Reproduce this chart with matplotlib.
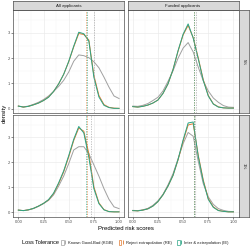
import matplotlib
matplotlib.use("Agg")
import matplotlib.pyplot as plt
from matplotlib.patches import Patch
from matplotlib.lines import Line2D
from matplotlib.legend_handler import HandlerTuple

plt.rcParams['font.family'] = ['Liberation Sans', 'DejaVu Sans']

# ---- data ----
scores = [0.00, 0.05, 0.10, 0.15, 0.20, 0.25, 0.30, 0.35, 0.40, 0.45, 0.50,
          0.55, 0.60, 0.65, 0.70, 0.75, 0.80, 0.85, 0.90, 0.95, 1.00]

col_labels = ["All applicants", "Funded applicants"]
row_labels = ["5%", "1%"]
series_labels = ["Known Good-Bad (KGB)", "Reject extrapolation (RE)", "Inter & extrapolation (IE)"]

kgb_all_5 = [0.10, 0.07, 0.10, 0.17, 0.25, 0.36, 0.50, 0.68, 0.88, 1.12, 1.45, 1.88, 2.13, 2.10, 2.02, 1.86, 1.62, 1.25, 0.85, 0.50, 0.40]
re_all_5 = [0.10, 0.06, 0.09, 0.15, 0.22, 0.32, 0.46, 0.68, 0.98, 1.36, 1.86, 2.45, 2.98, 2.94, 2.72, 1.32, 0.52, 0.16, 0.05, 0.02, 0.01]
ie_all_5 = [0.10, 0.06, 0.09, 0.15, 0.22, 0.32, 0.45, 0.68, 0.98, 1.36, 1.87, 2.48, 3.03, 2.97, 2.68, 1.24, 0.46, 0.13, 0.04, 0.01, 0.01]

kgb_fund_5 = [0.10, 0.09, 0.13, 0.20, 0.32, 0.45, 0.70, 1.08, 1.50, 2.00, 2.40, 2.62, 2.25, 1.65, 1.10, 0.70, 0.42, 0.25, 0.12, 0.06, 0.05]
re_fund_5 = [0.08, 0.06, 0.09, 0.14, 0.22, 0.34, 0.60, 0.98, 1.55, 2.28, 2.92, 3.30, 2.82, 2.02, 1.15, 0.52, 0.19, 0.07, 0.03, 0.02, 0.02]
ie_fund_5 = [0.08, 0.06, 0.09, 0.14, 0.22, 0.34, 0.60, 0.98, 1.55, 2.30, 2.95, 3.36, 2.80, 1.98, 1.12, 0.50, 0.18, 0.06, 0.03, 0.02, 0.02]

kgb_all_1 = [0.09, 0.07, 0.10, 0.15, 0.24, 0.35, 0.48, 0.70, 1.05, 1.45, 1.95, 2.50, 2.63, 2.63, 2.35, 1.90, 1.45, 0.95, 0.52, 0.22, 0.15]
re_all_1 = [0.09, 0.07, 0.10, 0.16, 0.25, 0.36, 0.50, 0.75, 1.15, 1.62, 2.22, 2.88, 3.38, 3.25, 2.35, 1.02, 0.38, 0.11, 0.03, 0.02, 0.02]
ie_all_1 = [0.09, 0.07, 0.10, 0.16, 0.25, 0.36, 0.51, 0.77, 1.18, 1.66, 2.27, 2.93, 3.44, 3.18, 2.20, 0.95, 0.35, 0.10, 0.03, 0.02, 0.02]

kgb_fund_1 = [0.08, 0.07, 0.10, 0.16, 0.28, 0.46, 0.72, 1.10, 1.55, 2.15, 2.75, 3.20, 3.05, 2.05, 1.15, 0.62, 0.32, 0.15, 0.08, 0.04, 0.03]
re_fund_1 = [0.07, 0.06, 0.09, 0.14, 0.25, 0.43, 0.70, 1.05, 1.48, 2.10, 2.85, 3.50, 3.55, 2.30, 1.30, 0.55, 0.22, 0.08, 0.04, 0.02, 0.02]
ie_fund_1 = [0.07, 0.06, 0.09, 0.14, 0.25, 0.43, 0.70, 1.05, 1.48, 2.12, 2.90, 3.58, 3.62, 2.25, 1.25, 0.52, 0.20, 0.07, 0.04, 0.02, 0.02]

# cut-off thresholds (dashed vertical lines): KGB, RE, IE
cut_all_5 = [0.75, 0.675, 0.68]
cut_fund_5 = [0.63, 0.61, 0.612]
cut_all_1 = [0.725, 0.685, 0.67]
cut_fund_1 = [0.62, 0.61, 0.612]

panels = {
    (0, 0): ([kgb_all_5, re_all_5, ie_all_5], cut_all_5),
    (0, 1): ([kgb_fund_5, re_fund_5, ie_fund_5], cut_fund_5),
    (1, 0): ([kgb_all_1, re_all_1, ie_all_1], cut_all_1),
    (1, 1): ([kgb_fund_1, re_fund_1, ie_fund_1], cut_fund_1),
}

colors = ["#a0a0a0", "#E07A30", "#2BA585"]
x_ticks = [0.00, 0.25, 0.50, 0.75, 1.00]
x_ticklabels = ["0.00", "0.25", "0.50", "0.75", "1.00"]
y_ticks = [0, 1, 2, 3]

# ---- layout ----
W = 250.0
fig = plt.figure(figsize=(2.5, 2.5), dpi=100)

col_x = [(13.3, 124.1), (127.7, 238.5)]
row_y = [(10.3, 113.3), (115.0, 217.0)]
strip_top = (1.0, 10.3)
strip_right = (239.3, 248.5)

def fx(px):
    return px / W

def fy(py):
    return 1 - py / W

grid_c = "#ebebeb"
border_c = "#4d4d4d"
strip_fill = "#d9d9d9"
tick_c = "#4d4d4d"
fs_tick = 3.0
fs_strip = 3.2

for (r, c), (series, cuts) in panels.items():
    x0, x1 = col_x[c]
    y0, y1 = row_y[r]
    ax = fig.add_axes([fx(x0), fy(y1), fx(x1) - fx(x0), fy(y0) - fy(y1)])
    ax.set_xlim(-0.05, 1.05)
    ax.set_ylim(-0.186, 3.9)
    for xv in [0.125, 0.375, 0.625, 0.875]:
        ax.axvline(xv, color="#f5f5f5", lw=0.3, zorder=0)
    for yv in [0.5, 1.5, 2.5, 3.5]:
        ax.axhline(yv, color="#f5f5f5", lw=0.3, zorder=0)
    for xv in x_ticks:
        ax.axvline(xv, color=grid_c, lw=0.5, zorder=0)
    for yv in y_ticks:
        ax.axhline(yv, color=grid_c, lw=0.5, zorder=0)
    for vals, col in zip(series, colors):
        ax.plot(scores, vals, color=col, lw=0.7, zorder=3)
    for cv, col in zip(cuts, colors):
        ax.axvline(cv, color=col, lw=0.45, ls=(0, (2.0, 2.0)), zorder=4)
    ax.set_xticks(x_ticks)
    ax.set_yticks(y_ticks)
    ax.tick_params(length=1.2, width=0.4, color="#333333", pad=1,
                   labelsize=fs_tick, labelcolor=tick_c)
    if r == 0:
        ax.set_xticklabels([])
        ax.tick_params(axis='x', length=0)
    else:
        ax.set_xticklabels(x_ticklabels)
    if c == 1:
        ax.set_yticklabels([])
        ax.tick_params(axis='y', length=0)
    else:
        ax.set_yticklabels([str(v) for v in y_ticks])
    for s in ax.spines.values():
        s.set_color(border_c)
        s.set_linewidth(0.5)

    if r == 0:
        sax = fig.add_axes([fx(x0), fy(strip_top[1]), fx(x1) - fx(x0), fy(strip_top[0]) - fy(strip_top[1])])
        sax.set_facecolor(strip_fill)
        sax.set_xticks([]); sax.set_yticks([])
        for s in sax.spines.values():
            s.set_color(border_c); s.set_linewidth(0.5)
        sax.text(0.5, 0.5, col_labels[c], ha="center", va="center",
                 fontsize=fs_strip, color="#1a1a1a", transform=sax.transAxes)
    if c == 1:
        sax = fig.add_axes([fx(strip_right[0]), fy(y1), fx(strip_right[1]) - fx(strip_right[0]), fy(y0) - fy(y1)])
        sax.set_facecolor(strip_fill)
        sax.set_xticks([]); sax.set_yticks([])
        for s in sax.spines.values():
            s.set_color(border_c); s.set_linewidth(0.5)
        sax.text(0.5, 0.5, row_labels[r], ha="center", va="center", rotation=-90,
                 fontsize=fs_strip, color="#1a1a1a", transform=sax.transAxes)

fig.text(fx(126), fy(228), "Predicted risk scores", ha="center", va="center", fontsize=4.3)
fig.text(fx(4), fy(113.5), "density", ha="center", va="center", rotation=90, fontsize=4.3)

fig.text(fx(22), fy(242.5), "Loss Tolerance", ha="left", va="center", fontsize=4.0)
handles = []
for col in colors:
    handles.append((Patch(facecolor="white", edgecolor=col, linewidth=0.5),
                    Line2D([], [], color=col, marker="|", linestyle="None",
                           markersize=3.5, markeredgewidth=0.6)))
leg = fig.legend(handles, series_labels, loc="center left",
                 bbox_to_anchor=(fx(61), fy(242.5)), ncol=3, frameon=False,
                 fontsize=3.0, handlelength=1.3, handleheight=1.3,
                 handletextpad=0.5, columnspacing=1.2, borderpad=0, borderaxespad=0,
                 handler_map={tuple: HandlerTuple(ndivide=None, pad=0)})
for t in leg.get_texts():
    t.set_color("#1a1a1a")

fig.savefig("out.png", dpi=100)
